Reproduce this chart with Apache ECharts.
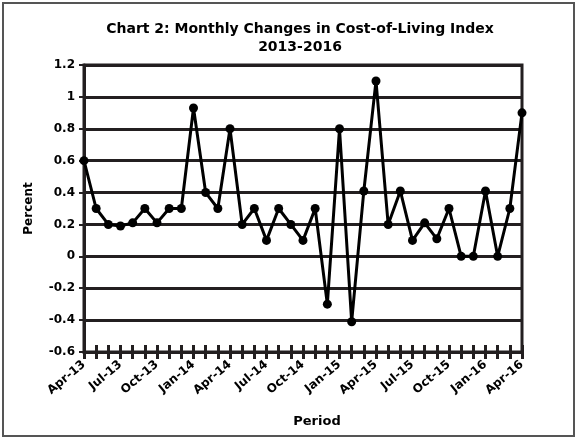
<!DOCTYPE html>
<html>
<head>
<meta charset="utf-8">
<script src="https://cdn.jsdelivr.net/npm/echarts@6/dist/echarts.min.js"></script>
<style>html,body{margin:0;padding:0;background:#fff;}#c{width:577px;height:439px;}</style>
</head>
<body>
<div id="c"></div>
<script>
const periods = ['Apr-13','May-13','Jun-13','Jul-13','Aug-13','Sep-13','Oct-13','Nov-13','Dec-13',
  'Jan-14','Feb-14','Mar-14','Apr-14','May-14','Jun-14','Jul-14','Aug-14','Sep-14','Oct-14','Nov-14','Dec-14',
  'Jan-15','Feb-15','Mar-15','Apr-15','May-15','Jun-15','Jul-15','Aug-15','Sep-15','Oct-15','Nov-15','Dec-15',
  'Jan-16','Feb-16','Mar-16','Apr-16'];
const percentChange = [0.6,0.3,0.2,0.19,0.21,0.3,0.21,0.3,0.3,
  0.93,0.4,0.3,0.8,0.2,0.3,0.1,0.3,0.2,0.1,0.3,-0.3,
  0.8,-0.41,0.41,1.1,0.2,0.41,0.1,0.21,0.11,0.3,0,0,
  0.41,0,0.3,0.9];
const titleText = 'Chart 2: Monthly Changes in Cost-of-Living Index\n2013-2016';
const yName = 'Percent';
const xName = 'Period';

const ink = '#231f20';
const font = 'DejaVu Sans';
const chart = echarts.init(document.getElementById('c'), null, {renderer:'canvas'});
chart.setOption({
  backgroundColor:'#fff',
  animation:false,
  textStyle:{fontFamily:font},
  title:{text:titleText,left:295,textAlign:'center',top:15,
    textStyle:{fontFamily:font,fontWeight:'bold',fontSize:14,color:'#000',lineHeight:18}},
  graphic:[{type:'rect',shape:{x:3,y:3,width:571,height:433},style:{fill:'none',stroke:'#555',lineWidth:2},silent:true}],
  grid:{left:84,right:55,top:65,bottom:87,show:true,borderColor:ink,borderWidth:3,backgroundColor:'transparent'},
  xAxis:[{
    type:'category',data:periods,boundaryGap:false,
    name:xName,nameLocation:'middle',nameGap:63,
    nameTextStyle:{fontFamily:font,fontWeight:'bold',fontSize:13,color:'#000',padding:[0,0,0,28]},
    axisLine:{onZero:false,lineStyle:{color:ink,width:3}},
    axisTick:{show:true,interval:0,length:7,lineStyle:{color:ink,width:3}},
    axisLabel:{interval:2,rotate:40,fontFamily:font,fontWeight:'bold',fontSize:12,color:'#000',margin:11},
    splitLine:{show:false}
  },{
    type:'category',data:periods,boundaryGap:false,position:'bottom',offset:0,
    axisLine:{show:false,onZero:false},
    axisTick:{show:true,inside:true,interval:0,length:7,lineStyle:{color:ink,width:3}},
    axisLabel:{show:false},splitLine:{show:false}
  }],
  yAxis:{
    type:'value',min:-0.6,max:1.2,interval:0.2,
    name:yName,nameLocation:'middle',nameGap:49,
    nameTextStyle:{fontFamily:font,fontWeight:'bold',fontSize:12,color:'#000'},
    axisLine:{show:true,lineStyle:{color:ink,width:3}},
    axisTick:{show:true,length:5,lineStyle:{color:ink,width:2}},
    axisLabel:{fontFamily:font,fontWeight:'bold',fontSize:12,color:'#000',margin:9,
      formatter:v=>String(parseFloat(v.toFixed(1)))},
    splitLine:{show:true,lineStyle:{color:ink,width:3}}
  },
  series:[{
    type:'line',data:percentChange,xAxisIndex:0,
    symbol:'circle',symbolSize:9,showAllSymbol:true,
    lineStyle:{color:'#000',width:3},
    itemStyle:{color:'#000'}
  }]
});
</script>
</body>
</html>
